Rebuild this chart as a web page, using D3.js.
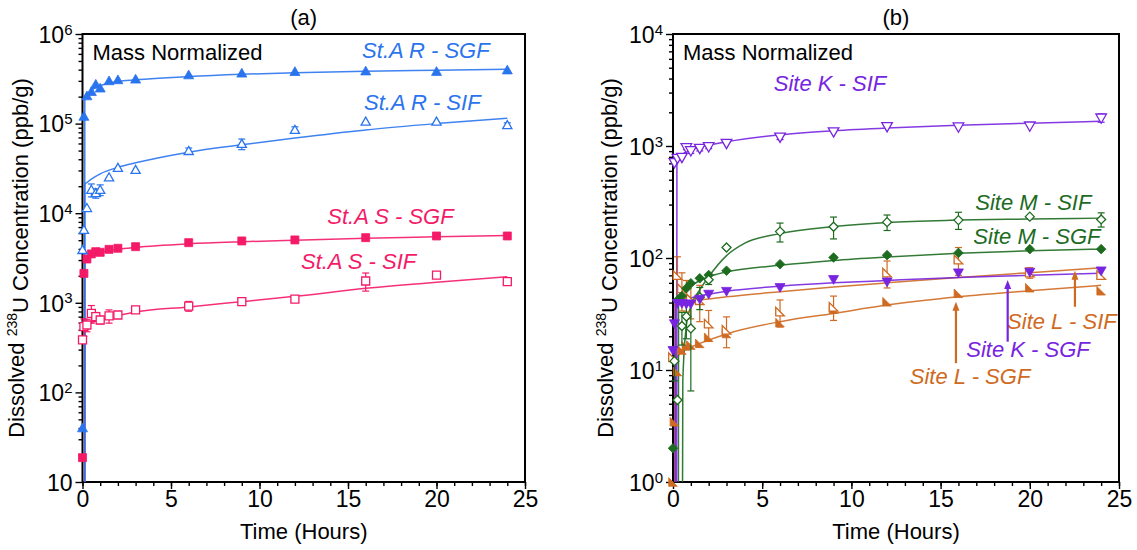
<!DOCTYPE html>
<html><head><meta charset="utf-8">
<script src="https://cdn.jsdelivr.net/npm/d3@7"></script>
<style>
body{margin:0;background:#fff}
svg{display:block}
text{font-family:"Liberation Sans", Arial, Helvetica, sans-serif}
</style>
</head><body>
<svg id="c" width="1137" height="550"></svg>
<script>
// ---------------- DATA ----------------
const hours = [0, 0.08, 0.25, 0.5, 0.75, 1, 1.5, 2, 3, 6, 9, 12, 16, 20, 24];

// Panel (a)
const aRSGF = [40, 1.2e5, 2.03e5, 2.27e5, 2.74e5, 2.48e5, 2.99e5, 3.07e5, 3.12e5, 3.48e5, 3.64e5, 3.79e5, 3.85e5, 3.8e5, 3.95e5];
const aRSIF = [3880, 6490, 1.14e4, 1.82e4, 1.67e4, 1.82e4, 2.51e4, 3.2e4, 3.04e4, 4.94e4, 5.92e4, 8.5e4, 1.05e5, 1.05e5, 9.6e4];
const aRSIFerr = [null, null, null, 3000, 2000, 2500, null, null, null, 4000, 8000, 7000, null, null, 6000];
const aSSGF = [18.7, 2130, 3080, 3510, 3720, 3660, 3950, 4060, 4230, 4690, 4900, 5030, 5330, 5570, 5570];
const aSSIF = [385, 541, 565, 762, 700, 643, 713, 731, 832, 920, 1030, 1100, 1750, 2040, 1720];
const aSSIFerr = [null, 120, 90, 170, 80, 60, 120, null, null, 115, null, null, 400, 120, 60];

const fitRSGF = [[0.12, 1], [0.13, 1.9e5], [0.25, 2.1e5], [0.5, 2.35e5], [1, 2.65e5], [2, 2.95e5], [3, 3.08e5], [6, 3.35e5], [9, 3.55e5], [12, 3.7e5], [16, 3.85e5], [20, 3.95e5], [24, 4.05e5]];
const fitRSIF = [[0.12, 1], [0.13, 2.1e4], [0.25, 2.2e4], [0.5, 2.4e4], [1, 2.75e4], [2, 3.25e4], [3, 3.65e4], [6, 4.8e4], [9, 5.8e4], [12, 6.9e4], [16, 8.5e4], [20, 1.0e5], [24, 1.15e5]];
const fitSSGF = [[0.12, 1], [0.13, 3000], [0.25, 3250], [0.5, 3450], [1, 3650], [2, 3950], [3, 4150], [6, 4550], [9, 4800], [12, 5000], [16, 5250], [20, 5450], [24, 5650]];
const fitSSIF = [[0.12, 1], [0.13, 560], [0.5, 600], [1, 640], [2, 720], [3, 790], [6, 900], [9, 1030], [12, 1180], [16, 1450], [20, 1700], [24, 1950]];

// Panel (b)
const bKSIF = [null, 710, 776, 793, 966, 908, 953, 986, 1057, 1200, 1340, 1490, 1480, 1510, 1780];
const bKSIFerr = [null, null, null, null, 40, 50, 50, 40, null, 60, null, null, null, null, 150];
const bKSGF = [15, 26, 39.4, 39.4, 38.9, 39, 43, 47.7, 50.6, 54.7, 64.5, 61.4, 74, 75, 77];
const bMSIF = [null, 12, 5.4, 24.7, 30, 23.5, 44.6, 64, 124, 172, 190, 209, 218, 234, 221];
const bMSIFerr = [null, 4, null, 8, 11, 17, 10, 6, null, 33, 42, 33, 38, null, 32];
const bMSGF = [2.0, null, 42, 45.8, 53.7, 59.5, 65.9, 70.5, 77, 88, 101, 106, 111, 120, 120];
const bLSIF = [13, null, 70.5, 53.7, 48, 43.6, 42, 26, 22.8, 33.2, 36.7, 74, 97, 74, 70.5];
const bLSIFerr = [null, null, 32, 20, 15, 15, 15, 8, 7, 9, 9, 20, 27, 8, null];
const bLSGF = [1.0, 3.45, 9.7, 15.1, 16.4, 16.7, 17.3, 19.6, 21.2, 26.5, 35, 40.7, 48.4, 54.3, 51];

const fitKSIF = [[0.2, 0.1], [0.22, 750], [0.5, 840], [1, 920], [1.5, 975], [2, 1020], [3, 1090], [6, 1260], [9, 1370], [12, 1450], [16, 1530], [20, 1600], [24, 1660]];
const fitKSGF = [[0.12, 0.1], [0.13, 38], [0.5, 41], [1, 44], [2, 47.5], [3, 50.5], [6, 56], [9, 60], [12, 63], [16, 67], [20, 70], [24, 73]];
const fitMSGF = [[0.3, 0.1], [0.31, 40], [0.5, 46], [1, 56], [1.5, 63], [2, 68], [3, 75], [6, 86], [9, 95], [12, 102], [16, 110], [20, 116], [24, 120]];
const fitMSIF = [[0.52, 0.1], [0.55, 8], [0.75, 25], [1, 37], [1.5, 52], [2, 68], [3, 105], [4, 135], [6, 165], [9, 191], [12, 208], [16, 218], [20, 223], [24, 227]];
const fitLSIF = [[0.1, 0.1], [0.11, 38], [0.5, 40], [1, 41.5], [2, 43], [3, 45], [6, 50], [9, 55], [12, 60], [16, 67], [20, 74], [24, 82]];
const fitLSGF = [[0.1, 0.1], [0.11, 12], [0.5, 14.5], [1, 16], [2, 18.5], [3, 21], [6, 27], [9, 32], [12, 38], [16, 45], [20, 51], [24, 57]];

const xMajorTicks = [0, 5, 10, 15, 20, 25];
const panelTitles = ["(a)", "(b)"];
const xTitle = "Time (Hours)";
const noteText = "Mass Normalized";

// ---------------- STYLE ----------------
const BLUE = "#2a74ee", PINK = "#f41a68", PURPLE = "#7724e0", GREEN = "#1c6b1f", ORANGE = "#cf6a22";
const FS = 22, TICKFS = 23;
const svg = d3.select("#c");
const defs = svg.append("defs");

function markerPath(shape, s) {
  switch (shape) {
    case "triUp": return `M0,${-s} L${s},${s*0.75} L${-s},${s*0.75} Z`;
    case "triDown": return `M0,${s} L${s},${-s*0.75} L${-s},${-s*0.75} Z`;
    case "square": return `M${-s},${-s} H${s} V${s} H${-s} Z`;
    case "diamond": return `M0,${-s} L${s},0 L0,${s} L${-s},0 Z`;
    case "corner": return `M${-s},${-s} L${-s},${s} L${s},${s} Z`;
  }
}

function drawPanel(cfg) {
  const x = d3.scaleLinear().domain([0, 25]).range([cfg.left, cfg.right]);
  const y = d3.scaleLog().domain(cfg.yDomain).range([cfg.bottom, cfg.top]);
  const g = svg.append("g");
  const clipId = "clip" + cfg.id;
  defs.append("clipPath").attr("id", clipId).append("rect")
    .attr("x", cfg.left).attr("y", cfg.top)
    .attr("width", cfg.right - cfg.left).attr("height", cfg.bottom - cfg.top);

  // axes
  g.append("g").attr("transform", `translate(0,${cfg.bottom})`)
    .call(d3.axisBottom(x).tickValues(d3.range(0, 26, 1)).tickSize(4).tickFormat("").tickSizeOuter(0));
  const gxMaj = g.append("g").attr("transform", `translate(0,${cfg.bottom})`)
    .call(d3.axisBottom(x).tickValues(xMajorTicks).tickSize(7).tickPadding(2).tickSizeOuter(0).tickFormat(d3.format("d")));
  gxMaj.selectAll("text").attr("font-size", TICKFS).attr("fill", "#000");

  const lo = Math.log10(cfg.yDomain[0]), hi = Math.log10(cfg.yDomain[1]);
  const decades = d3.range(lo, hi + 1).map(e => Math.pow(10, e));
  const minors = [];
  decades.slice(0, -1).forEach(d => { for (let k = 2; k <= 9; k++) minors.push(d * k); });
  g.append("g").attr("transform", `translate(${cfg.left},0)`)
    .call(d3.axisLeft(y).tickValues(minors).tickSize(4).tickFormat("").tickSizeOuter(0));
  const gyMaj = g.append("g").attr("transform", `translate(${cfg.left},0)`)
    .call(d3.axisLeft(y).tickValues(decades).tickSize(7).tickPadding(3).tickSizeOuter(0));
  gyMaj.selectAll(".tick text").each(function (d) {
    const t = d3.select(this);
    const e = Math.round(Math.log10(d));
    t.text(null).attr("font-size", TICKFS).attr("fill", "#000").attr("dy", "0.36em");
    t.append("tspan").text("10");
    if (!(cfg.id === "a" && e === 1)) {
      t.append("tspan").attr("dy", "-0.55em").attr("font-size", 15).text(e);
    }
  });
  g.selectAll(".domain").remove();
  g.selectAll(".tick line").attr("stroke", "#000").attr("stroke-width", 1.4);

  // frame
  g.append("rect").attr("x", cfg.left).attr("y", cfg.top)
    .attr("width", cfg.right - cfg.left).attr("height", cfg.bottom - cfg.top)
    .attr("fill", "none").attr("stroke", "#000").attr("stroke-width", 2);

  // titles
  const cx = (cfg.left + cfg.right) / 2;
  g.append("text").attr("x", cx).attr("y", 25).attr("text-anchor", "middle").attr("font-size", FS).text(cfg.title);
  g.append("text").attr("x", cx).attr("y", 539).attr("text-anchor", "middle").attr("font-size", FS).text(xTitle);
  const yt = g.append("text").attr("transform", `translate(${cfg.yTitleX},${(cfg.top + cfg.bottom) / 2}) rotate(-90)`)
    .attr("text-anchor", "middle").attr("font-size", FS);
  yt.append("tspan").text("Dissolved ");
  yt.append("tspan").attr("dy", "-0.5em").attr("font-size", 14).text("238");
  yt.append("tspan").attr("dy", "0.5em").text("U Concentration (ppb/g)");
  g.append("text").attr("x", cfg.left + 10).attr("y", 60).attr("font-size", FS).text(noteText);

  // fits
  const line = d3.line().x(d => x(d[0])).y(d => y(d[1])).curve(d3.curveMonotoneX);
  const fitG = g.append("g").attr("clip-path", `url(#${clipId})`);
  cfg.series.forEach(s => {
    fitG.append("path").datum(s.fit).attr("d", line)
      .attr("fill", "none").attr("stroke", s.color).attr("stroke-width", 1.5).attr("stroke-opacity", 0.9);
  });

  // error bars + markers
  cfg.series.forEach(s => {
    const pts = hours.map((h, i) => ({ t: h, v: s.values[i], e: s.errs ? s.errs[i] : null }))
      .filter(p => p.v != null);
    const eg = g.append("g").attr("stroke", s.color).attr("stroke-width", 1.2);
    pts.filter(p => p.e != null).forEach(p => {
      const x0 = x(p.t);
      const y1 = y(p.v + p.e), y2 = y(Math.max(p.v - p.e, cfg.yDomain[0] * 0.5));
      eg.append("line").attr("x1", x0).attr("x2", x0).attr("y1", y1).attr("y2", Math.min(y2, cfg.bottom));
      eg.append("line").attr("x1", x0 - 3.5).attr("x2", x0 + 3.5).attr("y1", y1).attr("y2", y1);
      if (y2 <= cfg.bottom) eg.append("line").attr("x1", x0 - 3.5).attr("x2", x0 + 3.5).attr("y1", y2).attr("y2", y2);
    });
    g.append("g").selectAll("path").data(pts).join("path")
      .attr("d", markerPath(s.shape, s.size))
      .attr("transform", p => `translate(${x(p.t)},${y(p.v)})`)
      .attr("fill", s.filled ? s.color : "#fff")
      .attr("stroke", s.color).attr("stroke-width", s.filled ? 0.8 : 1.3);
  });

  // labels
  cfg.labels.forEach(l => {
    g.append("text").attr("x", x(l.t)).attr("y", y(l.v)).attr("text-anchor", "middle")
      .attr("font-size", FS).attr("font-style", "italic").attr("fill", l.color).text(l.text);
  });
  (cfg.arrows || []).forEach(a => {
    const ax = x(a.t), yFrom = y(a.from), yTo = y(a.to);
    g.append("line").attr("x1", ax).attr("x2", ax).attr("y1", yFrom).attr("y2", yTo + 6)
      .attr("stroke", a.color).attr("stroke-width", 2.2);
    g.append("path").attr("d", `M${ax},${yTo} L${ax + 3.5},${yTo + 9} L${ax - 3.5},${yTo + 9} Z`).attr("fill", a.color);
  });
}

drawPanel({
  id: "a", left: 82.5, right: 525, top: 34, bottom: 482, yDomain: [10, 1e6], title: panelTitles[0], yTitleX: 24,
  series: [
    { values: aSSIF, errs: aSSIFerr, fit: fitSSIF, color: PINK, shape: "square", size: 4, filled: false },
    { values: aSSGF, errs: null, fit: fitSSGF, color: PINK, shape: "square", size: 4, filled: true },
    { values: aRSIF, errs: aRSIFerr, fit: fitRSIF, color: BLUE, shape: "triUp", size: 4.6, filled: false },
    { values: aRSGF, errs: null, fit: fitRSGF, color: BLUE, shape: "triUp", size: 5, filled: true }
  ],
  labels: [
    { text: "St.A R - SGF", t: 19.4, v: 5.4e5, color: BLUE },
    { text: "St.A R - SIF", t: 19.2, v: 1.42e5, color: BLUE },
    { text: "St.A S - SGF", t: 17.4, v: 7570, color: PINK },
    { text: "St.A S - SIF", t: 15.6, v: 2380, color: PINK }
  ]
});

drawPanel({
  id: "b", left: 673, right: 1119, top: 34, bottom: 482, yDomain: [1, 1e4], title: panelTitles[1], yTitleX: 613,
  series: [
    { values: bLSGF, errs: null, fit: fitLSGF, color: ORANGE, shape: "corner", size: 4.3, filled: true },
    { values: bLSIF, errs: bLSIFerr, fit: fitLSIF, color: ORANGE, shape: "corner", size: 4.3, filled: false },
    { values: bMSGF, errs: null, fit: fitMSGF, color: GREEN, shape: "diamond", size: 4.8, filled: true },
    { values: bMSIF, errs: bMSIFerr, fit: fitMSIF, color: GREEN, shape: "diamond", size: 4.5, filled: false },
    { values: bKSGF, errs: null, fit: fitKSGF, color: PURPLE, shape: "triDown", size: 5, filled: true },
    { values: bKSIF, errs: bKSIFerr, fit: fitKSIF, color: PURPLE, shape: "triDown", size: 5.3, filled: false }
  ],
  labels: [
    { text: "Site K - SIF", t: 8.8, v: 3100, color: PURPLE },
    { text: "Site M - SIF", t: 20.2, v: 268, color: GREEN },
    { text: "Site M - SGF", t: 20.4, v: 133, color: GREEN },
    { text: "Site L - SIF", t: 21.8, v: 23.2, color: ORANGE },
    { text: "Site K - SGF", t: 19.9, v: 13.1, color: PURPLE },
    { text: "Site L - SGF", t: 16.65, v: 7.5, color: ORANGE }
  ],
  arrows: [
    { t: 15.86, from: 11.5, to: 40.7, color: ORANGE },
    { t: 18.76, from: 17.9, to: 63.7, color: PURPLE },
    { t: 22.53, from: 36.7, to: 77, color: ORANGE }
  ]
});
</script>
</body></html>
